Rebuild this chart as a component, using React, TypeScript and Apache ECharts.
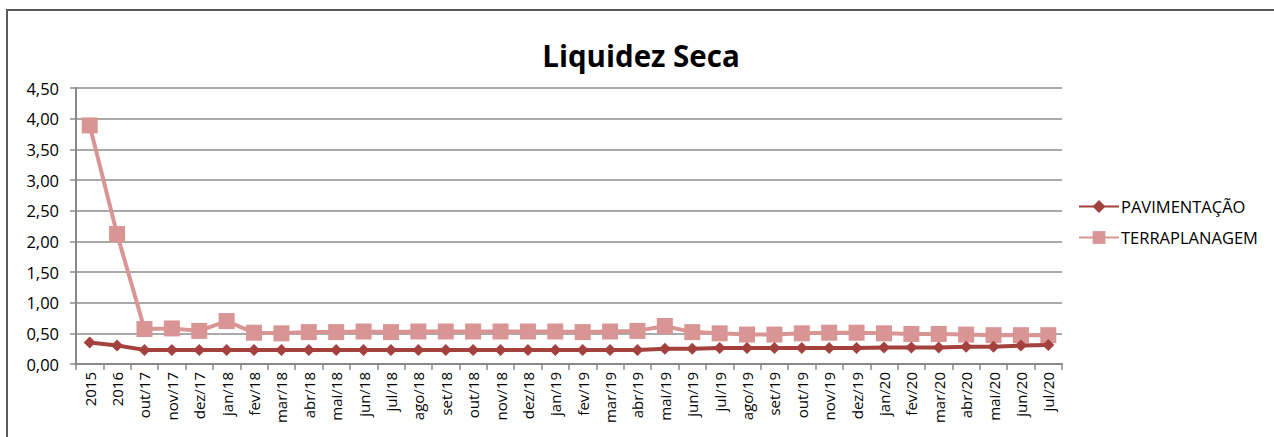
import React, { useEffect, useRef } from "react";
import * as echarts from "echarts";

const categories = [
  "2015", "2016", "out/17", "nov/17", "dez/17",
  "jan/18", "fev/18", "mar/18", "abr/18", "mai/18", "jun/18", "jul/18", "ago/18", "set/18", "out/18", "nov/18", "dez/18",
  "jan/19", "fev/19", "mar/19", "abr/19", "mai/19", "jun/19", "jul/19", "ago/19", "set/19", "out/19", "nov/19", "dez/19",
  "jan/20", "fev/20", "mar/20", "abr/20", "mai/20", "jun/20", "jul/20",
];

const pavimentacao = [
  0.35, 0.30, 0.23, 0.23, 0.23,
  0.23, 0.23, 0.23, 0.23, 0.23, 0.23, 0.23, 0.23, 0.23, 0.23, 0.23, 0.23,
  0.23, 0.23, 0.23, 0.23, 0.25, 0.25, 0.26, 0.26, 0.26, 0.26, 0.26, 0.26,
  0.27, 0.27, 0.27, 0.28, 0.28, 0.30, 0.31,
];

const terraplanagem = [
  3.89, 2.12, 0.57, 0.58, 0.54,
  0.70, 0.51, 0.50, 0.52, 0.52, 0.53, 0.52, 0.53, 0.53, 0.53, 0.53, 0.53,
  0.53, 0.52, 0.53, 0.54, 0.62, 0.52, 0.50, 0.48, 0.48, 0.50, 0.51, 0.51,
  0.50, 0.49, 0.49, 0.48, 0.47, 0.47, 0.47,
];

const seriesNames = ["PAVIMENTAÇÃO", "TERRAPLANAGEM"];
const titleText = "Liquidez Seca";

const FONT = "'Open Sans', 'Noto Sans', sans-serif";

export default function App() {
  const ref = useRef<HTMLDivElement>(null);
  useEffect(() => {
    if (!ref.current) return;
    const chart = echarts.init(ref.current, undefined, { renderer: "svg" });
    chart.setOption({
      animation: false,
      backgroundColor: "#ffffff",
      title: {
        text: titleText,
        left: 636,
        textAlign: "center",
        top: 35,
        textStyle: { fontFamily: FONT, fontWeight: "bold", fontSize: 29.5, color: "#000" },
      },
      graphic: [
        {
          type: "rect",
          shape: { x: 7, y: 10, width: 1300, height: 500 },
          style: { fill: "none", stroke: "#5a5a5a", lineWidth: 2 },
          silent: true,
        },
      ],
      grid: { left: 76, right: 212, top: 88, bottom: 73 },
      legend: {
        orient: "vertical",
        left: 1073,
        top: 193,
        itemGap: 14,
        itemWidth: 40,
        itemHeight: 16,
        textStyle: { fontFamily: FONT, fontSize: 16.5, color: "#000", padding: [0, 0, 0, -3] },
        data: seriesNames,
      },
      xAxis: {
        type: "category",
        data: categories,
        boundaryGap: true,
        axisLine: { show: true, lineStyle: { color: "#888", width: 2 } },
        axisTick: { show: true, interval: 0, length: 6, lineStyle: { color: "#888", width: 1.5 } },
        axisLabel: {
          interval: 0,
          rotate: 90,
          fontFamily: FONT,
          fontSize: 15,
          color: "#000",
          margin: 8,
        },
        splitLine: { show: false },
      },
      yAxis: {
        type: "value",
        min: 0,
        max: 4.5,
        interval: 0.5,
        axisLine: { show: true, lineStyle: { color: "#888", width: 2 } },
        axisTick: { show: true, length: 6, lineStyle: { color: "#888", width: 1.5 } },
        axisLabel: {
          fontFamily: FONT,
          fontSize: 16.5,
          color: "#000",
          margin: 17,
          formatter: (v: number) => v.toFixed(2).replace(".", ","),
        },
        splitLine: { show: true, lineStyle: { color: "#8c8c8c", width: 1.5 } },
      },
      series: [
        {
          name: seriesNames[0],
          type: "line",
          data: pavimentacao,
          symbol: "diamond",
          symbolSize: 12,
          lineStyle: { color: "#A4403D", width: 4 },
          itemStyle: { color: "#A4403D" },
          z: 3,
        },
        {
          name: seriesNames[1],
          type: "line",
          data: terraplanagem,
          symbol: "rect",
          symbolSize: 16,
          lineStyle: { color: "#D99594", width: 4 },
          itemStyle: { color: "#D99594" },
          z: 2,
        },
      ],
    });
    return () => chart.dispose();
  }, []);
  return (
    <div
      ref={ref}
      style={{ position: "fixed", left: 0, top: 0, width: 1274, height: 437, background: "#fff" }}
    />
  );
}
